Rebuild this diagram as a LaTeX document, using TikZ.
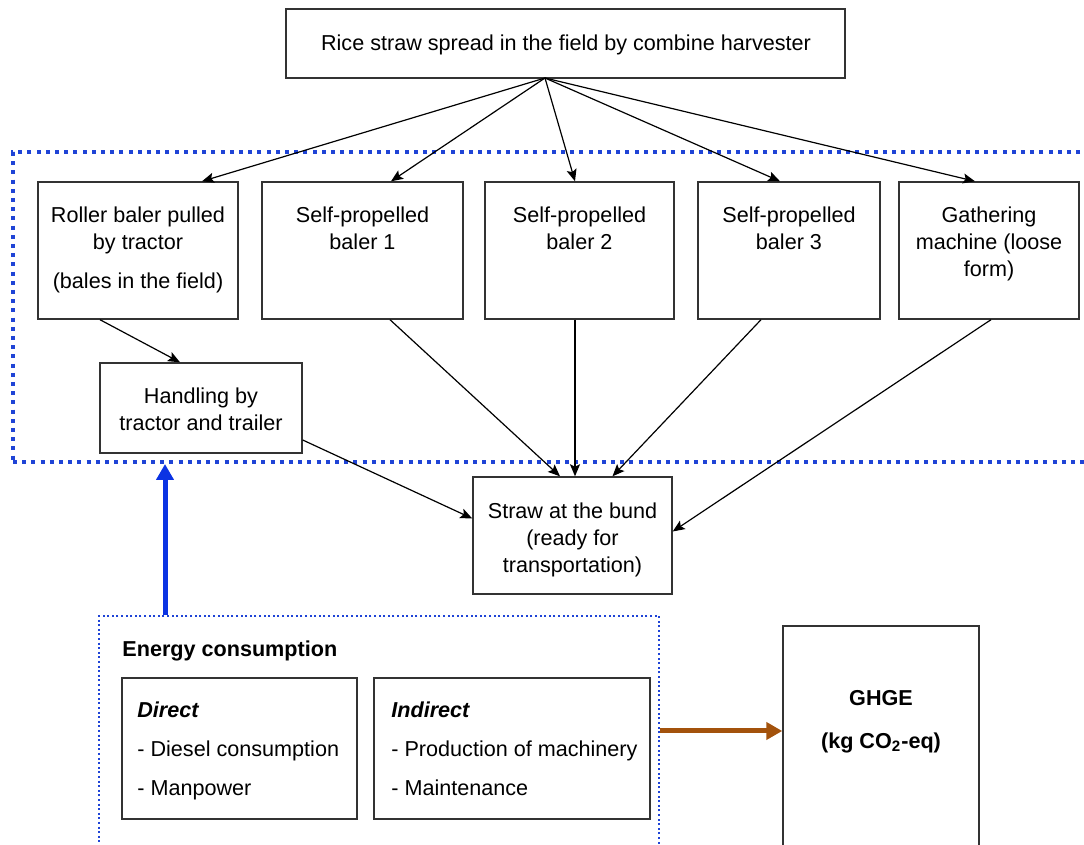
\documentclass[tikz,border=0pt]{standalone}
\usepackage{fontspec}
\setmainfont{Liberation Sans}
\usetikzlibrary{arrows.meta, calc, positioning}
\definecolor{DotBlue}{HTML}{1F44D6}
\definecolor{ArrBlue}{HTML}{0B33E3}
\definecolor{ArrBrown}{HTML}{A3520C}
\definecolor{BoxGray}{HTML}{333333}

\begin{document}
\begin{tikzpicture}[x=0.5pt, y=-0.5pt,
    font=\fontsize{10.8}{13.5}\selectfont,
    procbox/.style={draw=BoxGray, line width=0.7pt, inner sep=0pt},
    txt/.style={align=center, inner sep=0pt},
    flow/.style={-{Stealth[length=6pt, width=5pt, inset=1.2pt]}, line width=0.6pt},
    fatflow/.style={-{Triangle[length=8pt, width=8.5pt]}, line width=2.5pt}]
   \useasboundingbox (0,0) rectangle (1084,845);
   \clip (0,0) rectangle (1084,845);
   % Collection stage frame (runs off the right edge)
   \node[draw=DotBlue, line width=2pt, dash pattern=on 2pt off 2.6pt,
      minimum width=543.5pt, minimum height=155pt] (collect) at (556.5,307) {};
   % Start
   \node[procbox, minimum width=279.5pt, minimum height=34.5pt] (harvest) at (565.5,43.5) {};
   \node[txt, anchor=base] (harvesttxt) at (566,51) {Rice straw spread in the field by combine harvester};
   \coordinate (fan) at (545,78);
   % Machines
   \node[procbox, minimum width=100pt, minimum height=68.5pt] (roller) at (138,250.5) {};
   \node[procbox, minimum width=100.5pt, minimum height=68.5pt] (spb1) at (362.5,250.5) {};
   \node[procbox, minimum width=94.5pt, minimum height=68.5pt] (spb2) at (579.5,250.5) {};
   \node[procbox, minimum width=91pt, minimum height=68.5pt] (spb3) at (789,250.5) {};
   \node[procbox, minimum width=90pt, minimum height=68.5pt] (gather) at (989,250.5) {};
   \node[txt, anchor=north] (rollertxt) at (138,206) {Roller baler pulled\\by tractor\\[6pt](bales in the field)};
   \node[txt, anchor=north] (spb1txt) at (362.5,206) {Self-propelled\\baler 1};
   \node[txt, anchor=north] (spb2txt) at (579.5,206) {Self-propelled\\baler 2};
   \node[txt, anchor=north] (spb3txt) at (789,206) {Self-propelled\\baler 3};
   \node[txt, anchor=north] (gathertxt) at (989,206) {Gathering\\machine (loose\\form)};
   % Handling and bund
   \node[procbox, minimum width=101pt, minimum height=45pt] (handle) at (201,408) {};
   \node[txt, anchor=north] (handletxt) at (201,387) {Handling by\\tractor and trailer};
   \node[procbox, minimum width=99.5pt, minimum height=58.5pt] (bund) at (572.5,535.5) {};
   \node[txt, anchor=north] (bundtxt) at (572.5,502) {Straw at the bund\\(ready for\\transportation)};
   % Flows from harvester
   \draw[flow] (fan) -- ($(roller.north)+(64,0)$);
   \draw[flow] (fan) -- ($(spb1.north)+(28.5,0)$);
   \draw[flow] (fan) -- ($(spb2.north)+(-4.5,0)$);
   \draw[flow] (fan) -- ($(spb3.north)+(-9,0)$);
   \draw[flow] (fan) -- ($(gather.north)+(-14,0)$);
   % Flows to bund
   \draw[flow] ($(roller.south)+(-38,0)$) -- ($(handle.north)+(-21,0)$);
   \draw[flow] ($(handle.east)+(0,32)$) -- ($(bund.west)+(0,-17)$);
   \draw[flow] ($(spb1.south)+(27.5,0)$) -- ($(bund.north)+(-12.5,0)$);
   \draw[flow] ($(spb2.south)+(-4.5,0)$) -- ($(bund.north)+(2.5,0)$);
   \draw[flow] ($(spb3.south)+(-28,0)$) -- ($(bund.north)+(40,0)$);
   \draw[flow] ($(gather.south)+(2,0)$) -- ($(bund.east)+(0,-4)$);
   % Energy consumption
   \node[draw=DotBlue, line width=1pt, dash pattern=on 1pt off 1.3pt,
      minimum width=280pt, minimum height=142pt] (energy) at (379,758) {};
   \node[anchor=base west, inner sep=0pt] (energytxt) at (122,657) {\textbf{Energy consumption}};
   \node[procbox, minimum width=117.5pt, minimum height=70.5pt] (direct) at (239.5,748.5) {};
   \node[procbox, minimum width=138pt, minimum height=70.5pt] (indirect) at (512,748.5) {};
   \node[txt, align=left, anchor=north west] (directtxt) at (137,701)
      {\textbf{\textit{Direct}}\\[6pt]- Diesel consumption\\[6pt]- Manpower};
   \node[txt, align=left, anchor=north west] (indirecttxt) at (391,701)
      {\textbf{\textit{Indirect}}\\[6pt]- Production of machinery\\[6pt]- Maintenance};
   % GHGE
   \node[procbox, minimum width=98pt, minimum height=137pt] (ghge) at (881,763) {};
   \node[txt, anchor=north, font=\fontsize{10.8}{13.5}\selectfont\bfseries] (ghgetxt) at (881,690)
      {GHGE\\[8pt](kg CO\textsubscript{2}-eq)};
   \coordinate (feed) at ($(energy.north west)+(67,0)$);
   \coordinate (emit) at ($(energy.north east)+(0,116)$);
   \draw[fatflow, ArrBlue] (feed) -- (feed |- collect.south);
   \draw[fatflow, ArrBrown] (emit) -- (emit -| ghge.west);
\end{tikzpicture}
\end{document}
